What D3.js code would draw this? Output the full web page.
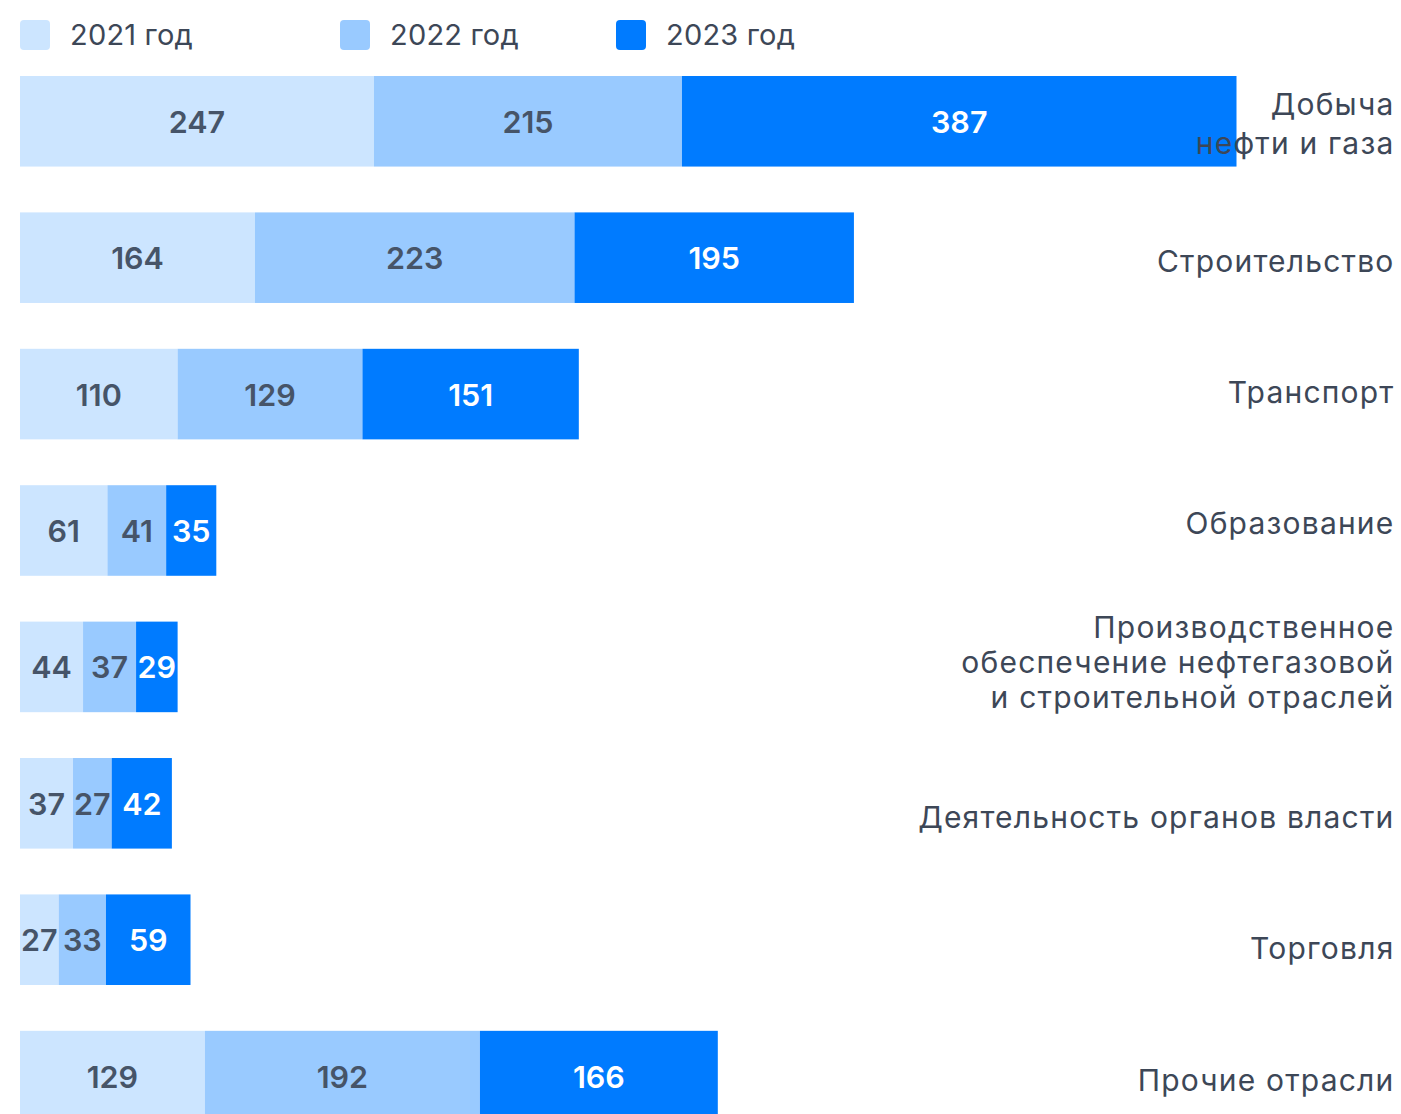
<!DOCTYPE html>
<html><head><meta charset="utf-8">
<script src="https://cdn.jsdelivr.net/npm/d3@7"></script>
<style>
html,body{margin:0;padding:0;background:#fff;}
svg{display:block;font-family:Inter, "Noto Sans", sans-serif;}
</style></head>
<body>
<svg id="chart" width="1401" height="1114"></svg>
<script>
const categories = [
  ["Добыча", "нефти и газа"],
  ["Строительство"],
  ["Транспорт"],
  ["Образование"],
  ["Производственное", "обеспечение нефтегазовой", "и строительной отраслей"],
  ["Деятельность органов власти"],
  ["Торговля"],
  ["Прочие отрасли"]
];
const seriesNames = ["2021 год", "2022 год", "2023 год"];
const v2021 = [247, 164, 110, 61, 44, 37, 27, 129];
const v2022 = [215, 223, 129, 41, 37, 27, 33, 192];
const v2023 = [387, 195, 151, 35, 29, 42, 59, 166];

const colors = ["#CCE5FF", "#99CAFF", "#007BFF"];
const textColors = ["#465468", "#465468", "#ffffff"];
const labelShift = [2, 3, -2, -7, -5, 14, 8, 4];

const svg = d3.select("#chart");
const rows = categories.map((c, i) => ({i, name: c, vals: [v2021[i], v2022[i], v2023[i]]}));
const maxTotal = d3.max(rows, r => d3.sum(r.vals));

const x = d3.scaleLinear().domain([0, maxTotal]).range([20, 1236.5]);
const y = d3.scaleBand().domain(d3.range(categories.length)).range([76, 1121.4]).paddingInner(0.336).paddingOuter(0);

const stackData = rows.map(r => ({i: r.i, "0": r.vals[0], "1": r.vals[1], "2": r.vals[2]}));
const stack = d3.stack().keys(["0", "1", "2"])(stackData);

const g = svg.append("g");
stack.forEach((layer, k) => {
  const lg = g.append("g");
  lg.selectAll("rect").data(layer).join("rect")
    .attr("x", d => x(d[0]))
    .attr("y", d => y(d.data.i))
    .attr("width", d => x(d[1]) - x(d[0]))
    .attr("height", y.bandwidth())
    .attr("fill", colors[k]);
});
stack.forEach((layer, k) => {
  g.append("g").selectAll("text").data(layer).join("text")
    .attr("x", d => (x(d[0]) + x(d[1])) / 2)
    .attr("y", d => y(d.data.i) + y.bandwidth() / 2)
    .attr("text-anchor", "middle")
    .attr("dominant-baseline", "central")
    .attr("font-size", 30.5)
    .attr("font-weight", 600)
    .attr("fill", textColors[k])
    .text(d => d[1] - d[0]);
});

// category labels
const lh = 35;
const labelX = 1394.5;
rows.forEach((r, i) => {
  const cy = y(i) + y.bandwidth() / 2 + labelShift[i];
  const n = r.name.length;
  const t = svg.append("text")
    .attr("x", labelX)
    .attr("text-anchor", "end")
    .attr("font-size", 30)
    .attr("letter-spacing", 1.2)
    .attr("fill", "#3d4757");
  r.name.forEach((line, j) => {
    t.append("tspan")
      .attr("x", labelX)
      .attr("y", cy + (j - (n - 1) / 2) * (i === 0 ? 39 : lh))
      .attr("dominant-baseline", "central")
      .text(line);
  });
});

// legend
const legendX = [20, 340, 616];
const lg = svg.append("g");
seriesNames.forEach((s, k) => {
  lg.append("rect").attr("x", legendX[k]).attr("y", 20).attr("width", 30).attr("height", 30)
    .attr("rx", 4).attr("fill", colors[k]);
  lg.append("text").attr("x", legendX[k] + 50).attr("y", 34)
    .attr("dominant-baseline", "central")
    .attr("font-size", 29).attr("letter-spacing", 0.2).attr("fill", "#3d4757").text(s);
});
</script>
</body></html>
